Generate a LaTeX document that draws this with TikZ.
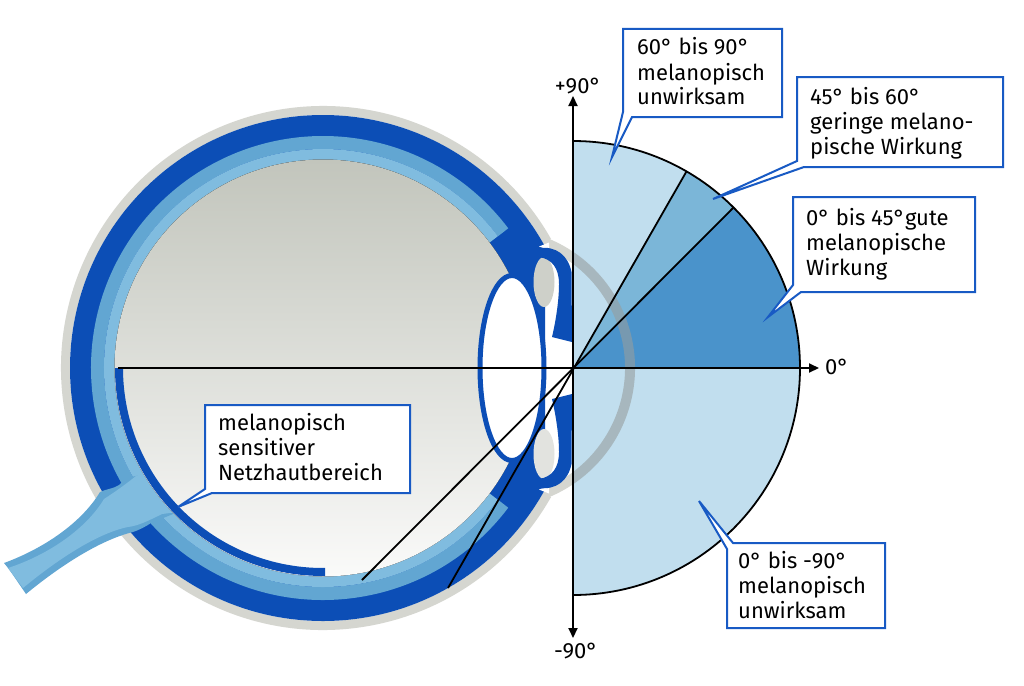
\documentclass[tikz,border=0pt]{standalone}
\usepackage{fontspec}
\setmainfont{Fira Sans}
\usetikzlibrary{arrows.meta}
\definecolor{dblue}{RGB}{12,78,182}
\definecolor{mblue}{RGB}{98,166,210}
\definecolor{lblue}{RGB}{128,188,223}
\definecolor{sclera}{RGB}{213,214,208}
\definecolor{vitTop}{RGB}{194,197,188}
\definecolor{vitBot}{RGB}{250,250,249}
\definecolor{secL}{RGB}{193,222,238}
\definecolor{secM}{RGB}{123,182,216}
\definecolor{secD}{RGB}{74,147,203}
\definecolor{cblue}{RGB}{24,90,196}
\definecolor{cornea}{RGB}{150,158,158}
\definecolor{patchU}{RGB}{206,208,201}
\definecolor{patchL}{RGB}{226,227,223}
\newcommand\cotext[1]{\begin{tabular}[t]{@{}l@{}}#1\end{tabular}}
\begin{document}
\begin{tikzpicture}[x=1pt,y=-1pt,
  callout/.style={draw=cblue, line width=2pt, fill=white, line join=miter},
  lbl/.style={font=\fontsize{22}{25}\selectfont, inner sep=0pt, anchor=base west},
  axisline/.style={line width=2pt, black},
  ray/.style={line width=1.8pt, black},
  tip/.style={-{Triangle[length=10pt,width=9pt]}}]
\useasboundingbox[fill=white] (0,0) rectangle (1024,685);
\coordinate (O) at (573,368);
\coordinate (E) at (323,368);
\coordinate (C) at (495,368);
% sectors
\fill[secL] (O) -- ++(-90:227) arc[start angle=-90,end angle=-60,radius=227] -- cycle;
\fill[secM] (O) -- ++(-60:227) arc[start angle=-60,end angle=-45,radius=227] -- cycle;
\fill[secD] (O) -- ++(-45:227) arc[start angle=-45,end angle=0,radius=227] -- cycle;
\fill[secL] (O) -- ++(0:227) arc[start angle=0,end angle=90,radius=227] -- cycle;
\draw[ray] (O) ++(-90:227) arc[start angle=-90,end angle=90,radius=227];
% cornea: opaque left of the axis, translucent over the sectors
\begin{scope}
  \clip (0,0) rectangle (573,685);
  \draw[sclera, line width=10pt] (C) ++(-72:135) arc[start angle=-72,end angle=72,radius=135];
\end{scope}
\begin{scope}
  \clip (573,0) rectangle (1024,685);
  \draw[cornea, opacity=0.6, line width=10pt] (C) ++(-72:135) arc[start angle=-72,end angle=72,radius=135];
\end{scope}
% sclera outer
\draw[sclera, line width=9pt] (E) ++(29.5:257.5) arc[start angle=29.5,end angle=330.5,radius=257.5];
\begin{scope}
  \clip (0,0) rectangle (545,685);
  \fill[dblue] (E) circle[radius=253];
\end{scope}
\draw[mblue, line width=13pt] (E) ++(37:225.5) arc[start angle=37,end angle=323,radius=225.5];
\draw[lblue, line width=11pt] (E) ++(37:213.5) arc[start angle=37,end angle=323,radius=213.5];
% optic nerve
\fill[mblue] (4,563) .. controls (45,548) and (82,522) .. (100,492)
  .. controls (106,489) and (113,489) .. (119,485) -- (126,478) -- (165,470) -- (178,512)
  -- (151,523) .. controls (145,527) and (139,530) .. (133,532)
  .. controls (100,540) and (60,566) .. (26,594)
  .. controls (17,581) and (10,570) .. (4,563) -- cycle;
\fill[lblue] (8,568) .. controls (48,555) and (86,529) .. (104,499)
  .. controls (115,492) and (126,484) .. (136,476) -- (165,465) -- (178,512) -- (162,514)
  .. controls (150,520) and (138,526) .. (128,527)
  .. controls (98,533) and (58,559) .. (23,588)
  .. controls (17,580) and (12,573) .. (8,568) -- cycle;
% vitreous
\fill[top color=vitTop, bottom color=vitBot] (E) circle[radius=208.5];
\draw[dblue, line width=8pt] (E) ++(180:204) arc[start angle=180,end angle=89.4,radius=204];
% notches
\fill[white] (549,242.5) -- (539,246.5) -- (549,250) -- cycle;
\fill[white] (549,493.5) -- (539,489.5) -- (549,486) -- cycle;
% posterior chambers
\fill[patchU] (544,282) ellipse[x radius=10.5,y radius=25];
\fill[patchL] (544,454) ellipse[x radius=10.5,y radius=25];
% lens
\draw[dblue, line width=5pt, fill=white] (512,368) ellipse[x radius=32,y radius=92.5];
% iris
\fill[dblue] (539,248) .. controls (556,246) and (568,255) .. (571.5,272) -- (572,342) -- (552,337)
  .. controls (556,320) and (559,300) .. (559,284) .. controls (559,268) and (552,259) .. (539,257) -- cycle;
\fill[dblue] (539,488) .. controls (556,490) and (568,481) .. (571.5,464) -- (572,394) -- (552,399)
  .. controls (556,416) and (559,436) .. (559,452) .. controls (559,468) and (552,477) .. (539,479) -- cycle;
% rays
\coordinate (r60a) at (448,588);
\coordinate (r60b) at (686.5,171.4);
\coordinate (r45a) at (362,580);
\coordinate (r45b) at (733.5,207.5);
\draw[ray] (r60a) -- (r60b);
\draw[ray] (r45a) -- (r45b);
% axes
\coordinate (hl) at (118,368);
\coordinate (hr) at (819,368);
\coordinate (vt) at (573,96);
\coordinate (vb) at (573,638);
\draw[axisline, tip] (hl) -- (hr);
\draw[axisline, {Triangle[length=10pt,width=9pt]}-{Triangle[length=10pt,width=9pt]}] (vt) -- (vb);
\node[lbl, anchor=base] (lp90) at (578,93) {+90°};
\node[lbl, anchor=base] (lm90) at (576,658) {-90°};
\node[lbl] (l0) at (825,374) {0°};
% callouts
\draw[callout] (205,405) -- (410,405) -- (410,493) -- (212,493) -- (178,507) -- (205,489) -- cycle;
\node[lbl] (tA) at (218,430) {\cotext{melanopisch\\sensitiver\\Netzhautbereich}};
\draw[callout] (623,29) -- (782,29) -- (782,117) -- (632,117) -- (612,157) -- (623,112) -- cycle;
\node[lbl] (tB) at (637,55) {\cotext{60° bis 90°\\melanopisch\\unwirksam}};
\draw[callout] (797,77) -- (1003,77) -- (1003,167) -- (804,167) -- (713,199) -- (797,161) -- cycle;
\node[lbl] (tC) at (810,104) {\cotext{45° bis 60°\\geringe melano-\\pische Wirkung}};
\draw[callout] (793,197) -- (975,197) -- (975,292) -- (801,292) -- (768,317) -- (793,285) -- cycle;
\node[lbl] (tD) at (806,225) {\cotext{0° bis 45°gute\\melanopische\\Wirkung}};
\draw[callout] (733,543) -- (885,543) -- (885,628) -- (727,628) -- (727,549) -- (699,501) -- cycle;
\node[lbl] (tE) at (738,568) {\cotext{0° bis -90°\\melanopisch\\unwirksam}};
\end{tikzpicture}
\end{document}
